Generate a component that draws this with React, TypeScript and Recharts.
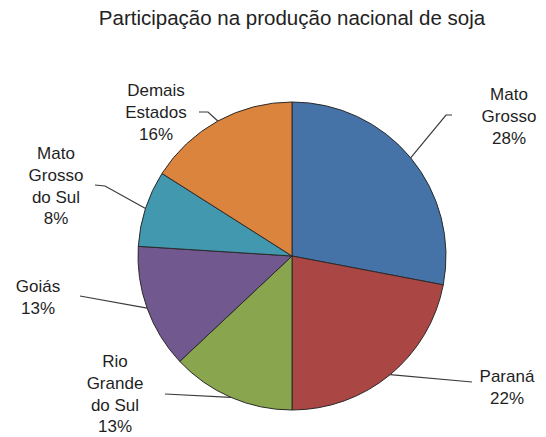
import { PieChart, Pie, Cell } from "recharts";

const TITLE = "Participação na produção nacional de soja";

const STATES = [
  "Mato Grosso",
  "Paraná",
  "Rio Grande do Sul",
  "Goiás",
  "Mato Grosso do Sul",
  "Demais Estados",
];
const SHARE = [28, 22, 13, 13, 8, 16];
const LABEL_LINES = [
  ["Mato", "Grosso"],
  ["Paraná"],
  ["Rio", "Grande", "do Sul"],
  ["Goiás"],
  ["Mato", "Grosso", "do Sul"],
  ["Demais", "Estados"],
];
const COLORS = ["#4572A7", "#AA4643", "#89A54E", "#71588F", "#4198AF", "#DB843D"];

// label layout, relative to pie centre: text centre/first baseline, elbow and end of leader line
const LABEL_LAYOUT = [
  { tx: 217, ty: -156, ex: 154, ey: -141, hx: 160, hy: -141 },
  { tx: 215, ty: 126, ex: 180, ey: 126, hx: 180, hy: 126 },
  { tx: -177, ty: 111, ex: -127, ey: 138, hx: -127, hy: 138 },
  { tx: -254, ty: 36, ex: -212, ey: 40, hx: -212, hy: 40 },
  { tx: -236, ty: -97, ex: -187, ey: -70, hx: -197, hy: -71 },
  { tx: -136, ty: -160, ex: -84, ey: -144, hx: -93, hy: -144 },
];

const data = STATES.map((name, i) => ({ name, value: SHARE[i] }));

const RAD = Math.PI / 180;
const LINE_H = 21.8;

const renderLabel = (p: any) => {
  const { cx, cy, midAngle, outerRadius, index } = p;
  const l = LABEL_LAYOUT[index];
  const x0 = cx + outerRadius * Math.cos(-midAngle * RAD);
  const y0 = cy + outerRadius * Math.sin(-midAngle * RAD);
  const lines = [...LABEL_LINES[index], `${SHARE[index]}%`];
  return (
    <g key={`lbl-${index}`}>
      <polyline
        points={`${x0},${y0} ${cx + l.ex},${cy + l.ey} ${cx + l.hx},${cy + l.hy}`}
        fill="none"
        stroke="#3a3a3a"
        strokeWidth={1.2}
      />
      <text
        x={cx + l.tx}
        y={cy + l.ty}
        textAnchor="middle"
        fontSize={17}
        fill="#1f1f1f"
        fontFamily="'Liberation Sans', Arial, sans-serif"
      >
        {lines.map((s, k) => (
          <tspan key={k} x={cx + l.tx} dy={k === 0 ? 0 : LINE_H}>
            {s}
          </tspan>
        ))}
      </text>
    </g>
  );
};

export default function App() {
  return (
    <div style={{ position: "absolute", left: 0, top: 0, width: 546, height: 437, background: "#fff" }}>
      <div
        style={{
          position: "absolute",
          left: 0,
          width: 584,
          top: 6,
          textAlign: "center",
          fontFamily: "'Liberation Sans', Arial, sans-serif",
          fontSize: 20.5,
          color: "#222",
          whiteSpace: "nowrap",
        }}
      >
        {TITLE}
      </div>
      <PieChart width={546} height={437} margin={{ top: 0, right: 0, bottom: 0, left: 0 }}>
        <Pie
          data={data}
          dataKey="value"
          nameKey="name"
          cx={292}
          cy={256}
          outerRadius={154}
          startAngle={90}
          endAngle={-270}
          stroke="#2b2b2b"
          strokeWidth={1}
          label={renderLabel}
          labelLine={false}
          isAnimationActive={false}
        >
          {data.map((d, i) => (
            <Cell key={d.name} fill={COLORS[i]} />
          ))}
        </Pie>
      </PieChart>
    </div>
  );
}
